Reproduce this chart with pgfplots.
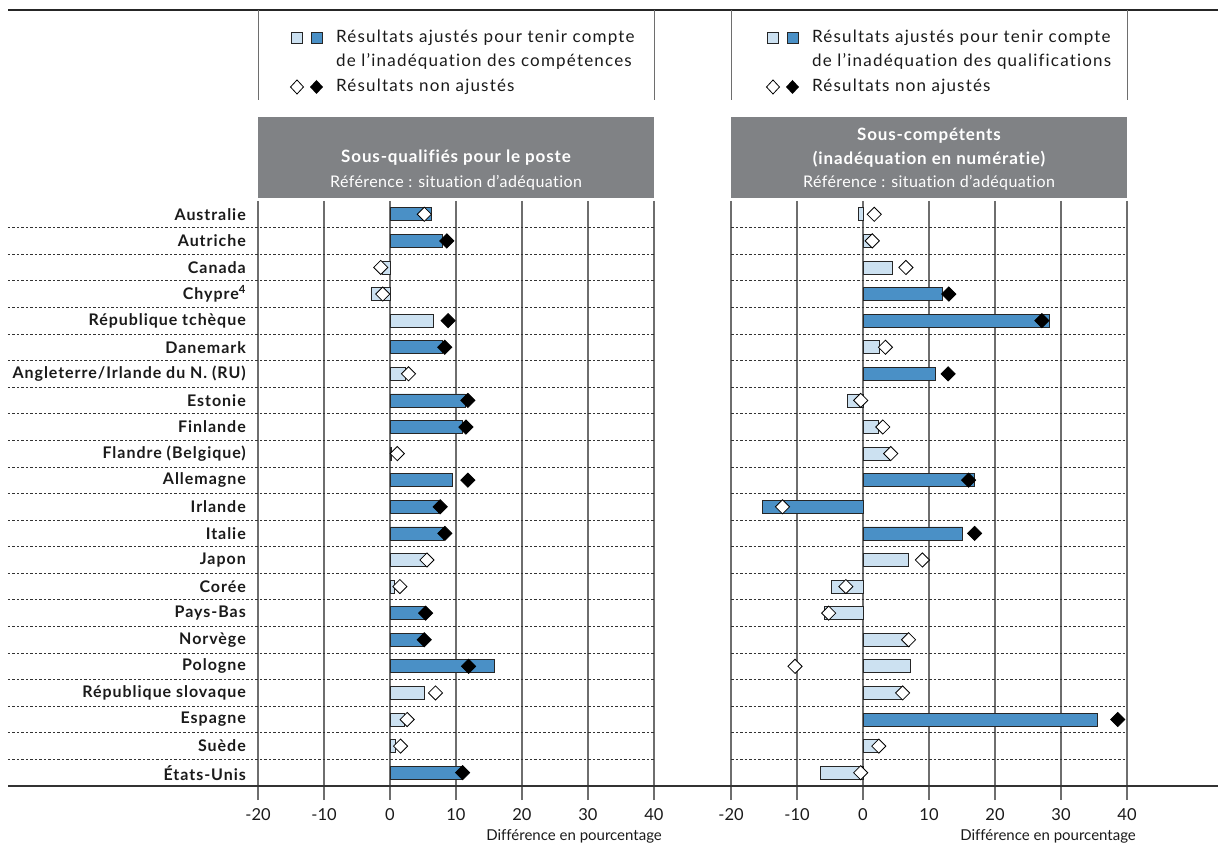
\documentclass[border=0pt]{standalone}
\usepackage{fontspec}
\setmainfont{Lato}[Ligatures={NoCommon,NoRare,NoContextual}]
\usepackage{pgfplots}
\usepackage{pgfplotstable}
\pgfplotsset{compat=1.18}

\definecolor{darkbar}{HTML}{4A90C6}
\definecolor{lightbar}{HTML}{CCE1F1}
\definecolor{hdr}{HTML}{808285}
\definecolor{gridc}{HTML}{6E6E6E}
\definecolor{txt}{HTML}{1A1A1A}

% r = row (0 = Australie), bar = adjusted, bs = significant,
% dia = unadjusted, ds = significant
\pgfplotstableread{
r bar bs dia ds
0 6.3 1 5.2 0
1 7.9 1 8.6 1
2 -1.1 0 -1.4 0
3 -2.9 0 -1.1 0
4 6.5 0 8.8 1
5 7.9 1 8.3 1
6 2.4 0 2.8 0
7 11.4 1 11.8 1
8 10.9 1 11.5 1
9 0.2 0 1.1 0
10 9.4 1 11.8 1
11 7.3 1 7.6 1
12 8.1 1 8.3 1
13 5.3 0 5.6 0
14 0.6 0 1.5 0
15 5.3 1 5.4 1
16 5.0 1 5.2 1
17 15.8 1 11.9 1
18 5.2 0 6.9 0
19 2.1 0 2.6 0
20 0.85 0 1.6 0
21 10.9 1 11.0 1
}\leftdata

\pgfplotstableread{
r bar bs dia ds
0 -0.7 0 1.7 0
1 1.2 0 1.4 0
2 4.4 0 6.5 0
3 12.0 1 13.0 1
4 28.2 1 27.1 1
5 2.5 0 3.4 0
6 11.0 1 12.9 1
7 -2.3 0 -0.35 0
8 2.4 0 3.0 0
9 4.0 0 4.2 0
10 16.8 1 16.0 1
11 -15.3 1 -12.2 0
12 15.1 1 16.9 1
13 6.9 0 9.0 0
14 -4.8 0 -2.6 0
15 -5.9 0 -5.2 0
16 7.0 0 6.9 0
17 7.1 0 -10.3 0
18 5.9 0 6.0 0
19 35.5 1 38.6 1
20 2.2 0 2.4 0
21 -6.4 0 -0.35 0
}\rightdata

\pgfplotsset{
  panel/.style={
    scale only axis, width=396pt, height=585pt,
    xmin=-20, xmax=40, ymin=-0.5, ymax=21.5, y dir=reverse,
    xtick={-20,-10,0,10,20,30,40},
    xticklabels={-20,-10,0,10,20,30,40},
    xmajorgrids, grid style={gridc, line width=1.1pt},
    axis line style={draw=none},
    xtick style={gridc, line width=1.1pt},
    major tick length=14pt, tick align=outside,
    xtick pos=bottom, ytick pos=left,
    ytick={0,...,21}, ytick style={draw=none},
    xticklabel style={font=\fontsize{16.5}{18}\selectfont, text=txt, inner sep=2pt, yshift=-6pt},
    clip=false,
  },
  adjbar/.style={xbar, bar shift=0pt, bar width=13pt, draw=black!85, line width=0.7pt},
  dmark/.style={only marks, mark=square*, mark size=5pt},
}

\newcommand\legfont{\fontsize{17}{20}\selectfont\addfontfeature{LetterSpace=7}}
\newcommand\hdrbold{\fontsize{17}{20}\selectfont\bfseries\addfontfeature{LetterSpace=5}}
\newcommand\hdrref{\fontsize{16}{19}\selectfont\addfontfeature{LetterSpace=2.5}}

\begin{document}
\begin{tikzpicture}[x=1pt,y=1pt]
\useasboundingbox (0pt,0pt) rectangle (1218pt,845pt);

% frame lines
\draw[black!85, line width=2pt] (8pt,835pt) -- (1218pt,835pt);
\foreach \xx in {258,654,731,1127}{
  \draw[gridc, line width=1pt] (\xx pt,835pt) -- (\xx pt,745pt);
}

% header boxes
\fill[hdr] (258pt,647pt) rectangle (654pt,728pt);
\fill[hdr] (731pt,647pt) rectangle (1127pt,728pt);
\node[text=white, font=\hdrbold] at (456pt,687pt) {Sous-qualifiés pour le poste};
\node[text=white, font=\hdrref] at (456pt,662pt) {Référence : situation d’adéquation};
\node[text=white, font=\hdrbold] at (929pt,709pt) {Sous-compétents};
\node[text=white, font=\hdrbold] at (929pt,686pt) {(inadéquation en numératie)};
\node[text=white, font=\hdrref] at (929pt,662pt) {Référence : situation d’adéquation};

% legends
\foreach \lx/\txtb in {297/compétences, 773/qualifications}{
  \draw[black!85, line width=0.8pt, fill=lightbar] (\lx pt-5.5pt,801.5pt) rectangle (\lx pt+5.5pt,812.5pt);
  \draw[black!85, line width=0.8pt, fill=darkbar] (\lx pt+14pt,801.5pt) rectangle (\lx pt+25pt,812.5pt);
  \node[anchor=west, font=\legfont, text=txt, inner sep=0pt] at (\lx pt+39pt,807pt) {Résultats ajustés pour tenir compte};
  \node[anchor=west, font=\legfont, text=txt, inner sep=0pt] at (\lx pt+39pt,784pt) {de l’inadéquation des \txtb};
  \draw[black, line width=0.8pt, fill=white] (\lx pt,765pt) -- (\lx pt+6.5pt,758pt) -- (\lx pt,751pt) -- (\lx pt-6.5pt,758pt) -- cycle;
  \fill[black] (\lx pt+19.5pt,765pt) -- (\lx pt+26pt,758pt) -- (\lx pt+19.5pt,751pt) -- (\lx pt+13pt,758pt) -- cycle;
  \node[anchor=west, font=\legfont, text=txt, inner sep=0pt] at (\lx pt+39pt,758pt) {Résultats non ajustés};
}

% left panel
\begin{axis}[panel, at={(258pt,59pt)}, anchor=south west,
  yticklabels={Australie, Autriche, Canada, Chypre\textsuperscript{4}, République tchèque, Danemark,
    Angleterre/Irlande du N. (RU), Estonie, Finlande, Flandre (Belgique), Allemagne, Irlande, Italie,
    Japon, Corée, Pays-Bas, Norvège, Pologne, République slovaque, Espagne, Suède, États-Unis},
  yticklabel style={font=\fontsize{16}{18}\selectfont\bfseries\addfontfeature{LetterSpace=6}, text=txt, anchor=east, inner sep=0pt, xshift=2pt},
]
\pgfplotsinvokeforeach{0.5,1.5,...,20.5}{
  \draw[black!80, line width=0.8pt, dash pattern=on 2.5pt off 2pt] (axis cs:-57.9,#1) -- (axis cs:40,#1);
}
\addplot[adjbar, fill=lightbar, x filter/.expression={\thisrow{bs}>0 ? nan : x}] table[x=bar, y=r]{\leftdata};
\addplot[adjbar, fill=darkbar, x filter/.expression={\thisrow{bs}>0 ? x : nan}] table[x=bar, y=r]{\leftdata};
\addplot[dmark, mark options={rotate=45, fill=white, draw=black, line width=0.8pt}, x filter/.expression={\thisrow{ds}>0 ? nan : x}] table[x=dia, y=r]{\leftdata};
\addplot[dmark, mark options={rotate=45, fill=black, draw=black, line width=0.8pt}, x filter/.expression={\thisrow{ds}>0 ? x : nan}] table[x=dia, y=r]{\leftdata};
\end{axis}

% right panel
\begin{axis}[panel, at={(731pt,59pt)}, anchor=south west, yticklabels={}]
\pgfplotsinvokeforeach{0.5,1.5,...,20.5}{
  \draw[black!80, line width=0.8pt, dash pattern=on 2.5pt off 2pt] (axis cs:-20,#1) -- (axis cs:40,#1);
}
\addplot[adjbar, fill=lightbar, x filter/.expression={\thisrow{bs}>0 ? nan : x}] table[x=bar, y=r]{\rightdata};
\addplot[adjbar, fill=darkbar, x filter/.expression={\thisrow{bs}>0 ? x : nan}] table[x=bar, y=r]{\rightdata};
\addplot[dmark, mark options={rotate=45, fill=white, draw=black, line width=0.8pt}, x filter/.expression={\thisrow{ds}>0 ? nan : x}] table[x=dia, y=r]{\rightdata};
\addplot[dmark, mark options={rotate=45, fill=black, draw=black, line width=0.8pt}, x filter/.expression={\thisrow{ds}>0 ? x : nan}] table[x=dia, y=r]{\rightdata};
\end{axis}

% bottom line and axis titles
\draw[black!80, line width=1.5pt] (8pt,59pt) -- (1218pt,59pt);
\node[anchor=base east, font=\fontsize{15}{17}\selectfont, text=txt, inner sep=0pt] at (662pt,4.5pt) {Différence en pourcentage};
\node[anchor=base east, font=\fontsize{15}{17}\selectfont, text=txt, inner sep=0pt] at (1136pt,4.5pt) {Différence en pourcentage};
\end{tikzpicture}
\end{document}
